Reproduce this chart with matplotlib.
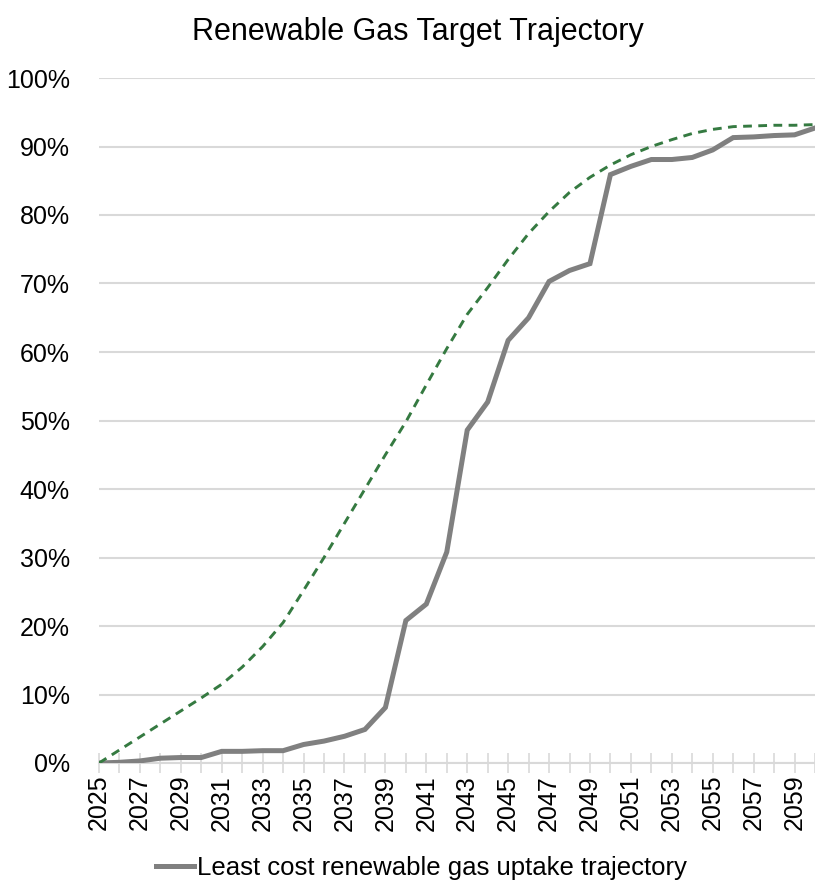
import numpy as np
from matplotlib import pyplot as plt
from matplotlib.ticker import FixedLocator

plt.rcParams['font.family'] = ['Liberation Sans Narrow', 'Liberation Sans', 'DejaVu Sans']

years = list(range(2025, 2061))

# least cost uptake (%), one value per year
uptake = [0.0, 0.1, 0.3, 0.7, 0.8, 0.8, 1.7, 1.7, 1.8, 1.8,
          2.7, 3.2, 3.9, 4.9, 8.1, 20.8, 23.2, 30.8, 48.6, 52.7,
          61.7, 65.0, 70.3, 71.9, 72.9, 85.9, 87.1, 88.1, 88.1, 88.4,
          89.5, 91.3, 91.4, 91.6, 91.7, 92.7]

# target trajectory (%), dashed
target = [0.0, 1.9, 3.8, 5.7, 7.6, 9.5, 11.5, 14.0, 17.0, 20.5,
          25.2, 30.0, 35.0, 40.0, 45.0, 49.8, 55.2, 60.5, 65.5, 69.4,
          73.5, 77.3, 80.5, 83.3, 85.5, 87.3, 88.8, 90.0, 91.0, 91.9,
          92.5, 92.9, 93.0, 93.1, 93.1, 93.2]

y_ticks = list(range(0, 101, 10))
grid_col = '#d9d9d9'

fig = plt.figure(figsize=(8.15, 8.84), dpi=100)
ax = fig.add_axes([99/815, 1-763/884, 1-99/815, (763-78)/884])

ax.plot(years, uptake, color='#808080', lw=3.6, solid_joinstyle='miter', zorder=3,
        label='Least cost renewable gas uptake trajectory')
ax.plot(years, target, color='#357a41', lw=2.1, dashes=(3.0, 2.2), zorder=4)

ax.set_xlim(2025, 2060)
ax.set_ylim(0, 100)
ax.set_yticks(y_ticks)
ax.set_yticklabels([f'{v}%' for v in y_ticks])
ax.yaxis.grid(True, color=grid_col, lw=1.5)
ax.set_axisbelow(True)

ax.xaxis.set_major_locator(FixedLocator(years[::2]))
ax.xaxis.set_minor_locator(FixedLocator(years[1::2]))
ax.set_xticklabels([str(y) for y in years[::2]], rotation=90, va='top', ha='center')

for s in ['top', 'right', 'left']:
    ax.spines[s].set_visible(False)
ax.spines['bottom'].set_color(grid_col)
ax.spines['bottom'].set_linewidth(1.5)
ax.spines['bottom'].set_zorder(2)

ax.tick_params(axis='y', length=0, pad=21, labelsize=18, colors='black')
ax.tick_params(axis='x', which='both', direction='inout', length=14, width=1.2,
               color=grid_col, pad=1.5, labelsize=18)

fig.text(418/815, 1-32/884, 'Renewable Gas Target Trajectory', ha='center', va='center', fontsize=22)

fig.legend(loc='center', bbox_to_anchor=(421/815, 1-868/884), frameon=False, fontsize=18.5,
           handlelength=1.5, handletextpad=0.1, borderpad=0)

plt.savefig('out.png', dpi=100)
